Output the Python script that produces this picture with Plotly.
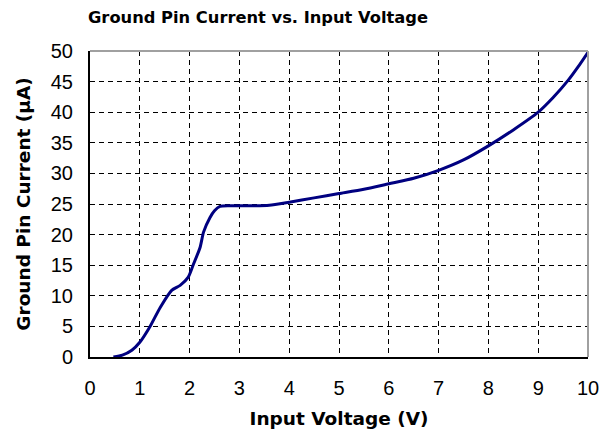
import plotly.graph_objects as go

voltage = [0.47, 0.65, 0.84, 1.0, 1.2, 1.41, 1.64, 1.81, 1.97, 2.07, 2.21, 2.28, 2.41, 2.5, 2.61, 2.8, 3.2, 3.6, 4.0, 4.5, 5.0, 5.5, 6.0, 6.5, 7.0, 7.5, 8.0, 8.5, 9.0, 9.3, 9.6, 9.8, 10.0]
current = [0.0, 0.3, 1.1, 2.4, 4.9, 8.1, 10.9, 11.7, 13.0, 15.0, 17.9, 20.4, 22.8, 23.9, 24.6, 24.7, 24.7, 24.8, 25.3, 26.0, 26.7, 27.4, 28.3, 29.2, 30.5, 32.2, 34.5, 37.1, 40.0, 42.4, 45.2, 47.4, 49.8]

x_ticks = list(range(0, 11))
y_ticks = list(range(0, 51, 5))

fig = go.Figure()
fig.add_trace(go.Scatter(x=voltage, y=current, mode="lines",
                         line=dict(color="#000080", width=3, shape="spline", smoothing=0.6),
                         showlegend=False, hoverinfo="skip"))

# page body has an 8px margin, so the figure is 8px smaller and margins compensate
W, H = 606, 432
tick_font = "Liberation Sans, Arial, sans-serif"
title_font = "DejaVu Sans, Verdana, sans-serif"
fig.update_layout(
    width=W, height=H,
    margin=dict(l=82, r=26, t=43, b=83, autoexpand=False),
    paper_bgcolor="white", plot_bgcolor="white",
    title=dict(text="<b>Ground Pin Current vs. Input Voltage</b>", x=250 / W, xanchor="center",
               xref="container",
               y=1 - 9 / H, yanchor="middle",
               font=dict(family=title_font, size=16.3, color="black")),
    font=dict(family=tick_font, color="black"),
)
fig.update_xaxes(
    range=[0, 10], tickvals=x_ticks, ticktext=[str(v) for v in x_ticks],
    showline=True, linecolor="black", linewidth=2,
    showgrid=True, gridcolor="black", gridwidth=1, griddash="5px,4px",
    zeroline=False, ticks="outside", ticklen=12, tickcolor="rgba(0,0,0,0)",
    tickfont=dict(size=20, family=tick_font), automargin=False,
    title=dict(text="<b>Input Voltage (V)</b>", font=dict(size=18.5, family=title_font), standoff=14),
)
fig.update_yaxes(
    range=[0, 50], tickvals=y_ticks, ticktext=[str(v) for v in y_ticks],
    showline=True, linecolor="black", linewidth=2,
    showgrid=True, gridcolor="black", gridwidth=1, griddash="5px,4px",
    zeroline=False, ticks="outside", ticklen=11, tickcolor="rgba(0,0,0,0)",
    tickfont=dict(size=20, family=tick_font), automargin=False,
    title=dict(text="<b>Ground Pin Current (µA)</b>", font=dict(size=18.5, family=title_font), standoff=15),
)
# gray top/right border
fig.add_shape(type="line", xref="paper", yref="paper", x0=0, x1=1, y0=1, y1=1,
              line=dict(color="#a0a0a0", width=2))
fig.add_shape(type="line", xref="paper", yref="paper", x0=1, x1=1, y0=0, y1=1,
              line=dict(color="#a0a0a0", width=2))

fig.write_html("out.html")
